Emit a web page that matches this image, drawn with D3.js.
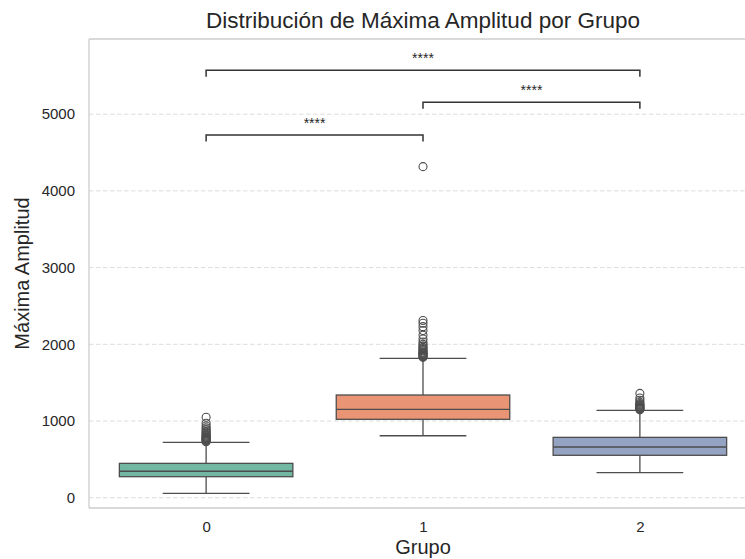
<!DOCTYPE html>
<html>
<head>
<meta charset="utf-8">
<script src="https://cdn.jsdelivr.net/npm/d3@7"></script>
<style>
  body { margin: 0; background: #fff; }
  svg { font-family: "Liberation Sans", Arial, sans-serif; }
</style>
</head>
<body>
<div id="chart"></div>
<script>
// ---- data ----
var groups = ["0", "1", "2"];
var whiskerLow = [57, 808, 326];
var q1 = [274, 1022, 553];
var medians = [345, 1152, 661];
var q3 = [448, 1339, 787];
var whiskerHigh = [722, 1817, 1139];
var outliers0 = [730, 740, 748, 755, 762, 770, 778, 785, 795, 805, 815, 828, 840, 855, 870, 890, 910, 935, 970, 1050];
var outliers1 = [1830, 1840, 1850, 1860, 1870, 1880, 1890, 1900, 1915, 1930, 1945, 1960, 1980, 2000, 2030, 2070, 2120, 2180, 2230, 2275, 2310, 4316];
var outliers2 = [1148, 1155, 1162, 1170, 1178, 1186, 1195, 1205, 1215, 1228, 1245, 1270, 1300, 1360];
var yTicks = [0, 1000, 2000, 3000, 4000, 5000];
var pairs = [[0, 2], [1, 2], [0, 1]];
var bracketLevels = [5574, 5155, 4729];
var pLabels = ["****", "****", "****"];
var colors = ["#71b7a1", "#e99575", "#95a3c3"];

var outliers = [outliers0, outliers1, outliers2];

var width = 745, height = 559;
var margin = {top: 39, right: -12, bottom: 51, left: 89};

var svg = d3.select("#chart").append("svg")
    .attr("width", width)
    .attr("height", height);

var xScale = d3.scaleLinear()
    .domain([-0.54, 2.54])
    .range([margin.left, width - margin.right]);

var yScale = d3.scaleLinear()
    .domain([-134, 5980])
    .range([height - margin.bottom, margin.top]);

var boxW = xScale(0.8) - xScale(0);
var capW = boxW / 2;
var lineColor = "#4d4d4d";

// grid
svg.append("g")
  .selectAll("line")
  .data(yTicks)
  .enter().append("line")
    .attr("x1", margin.left)
    .attr("x2", width)
    .attr("y1", function(d) { return yScale(d); })
    .attr("y2", function(d) { return yScale(d); })
    .attr("stroke", "#dcdcdc")
    .attr("stroke-width", 1)
    .attr("stroke-dasharray", "4.5,2.5");

// y axis
var yAxis = d3.axisLeft(yScale).tickValues(yTicks).tickFormat(d3.format("d"))
    .tickSize(0).tickPadding(14);
var gy = svg.append("g")
    .attr("transform", `translate(${margin.left},0)`)
    .call(yAxis);
gy.select(".domain").remove();
gy.selectAll("text").attr("font-size", "15px").attr("fill", "#262626");

// x axis
var xAxis = d3.axisBottom(xScale).tickValues([0, 1, 2])
    .tickFormat(function(d) { return groups[d]; })
    .tickSize(0).tickPadding(13);
var gx = svg.append("g")
    .attr("transform", `translate(0,${height - margin.bottom})`)
    .call(xAxis);
gx.select(".domain").remove();
gx.selectAll("text").attr("font-size", "15px").attr("fill", "#262626");

// spines
var frame = svg.append("g").attr("stroke", "#cccccc").attr("stroke-width", 1.3).attr("fill", "none");
frame.append("line").attr("x1", margin.left).attr("x2", margin.left)
    .attr("y1", margin.top).attr("y2", height - margin.bottom);
frame.append("line").attr("x1", margin.left).attr("x2", width)
    .attr("y1", margin.top).attr("y2", margin.top);
frame.append("line").attr("x1", margin.left).attr("x2", width)
    .attr("y1", height - margin.bottom).attr("y2", height - margin.bottom);

// boxes
var boxes = svg.append("g").selectAll("g")
    .data(groups)
    .enter().append("g");

boxes.append("line")
    .attr("x1", function(d, i) { return xScale(i); })
    .attr("x2", function(d, i) { return xScale(i); })
    .attr("y1", function(d, i) { return yScale(whiskerLow[i]); })
    .attr("y2", function(d, i) { return yScale(q1[i]); })
    .attr("stroke", lineColor).attr("stroke-width", 1.3);
boxes.append("line")
    .attr("x1", function(d, i) { return xScale(i); })
    .attr("x2", function(d, i) { return xScale(i); })
    .attr("y1", function(d, i) { return yScale(q3[i]); })
    .attr("y2", function(d, i) { return yScale(whiskerHigh[i]); })
    .attr("stroke", lineColor).attr("stroke-width", 1.3);
boxes.append("line")
    .attr("x1", function(d, i) { return xScale(i) - capW / 2; })
    .attr("x2", function(d, i) { return xScale(i) + capW / 2; })
    .attr("y1", function(d, i) { return yScale(whiskerLow[i]); })
    .attr("y2", function(d, i) { return yScale(whiskerLow[i]); })
    .attr("stroke", lineColor).attr("stroke-width", 1.3);
boxes.append("line")
    .attr("x1", function(d, i) { return xScale(i) - capW / 2; })
    .attr("x2", function(d, i) { return xScale(i) + capW / 2; })
    .attr("y1", function(d, i) { return yScale(whiskerHigh[i]); })
    .attr("y2", function(d, i) { return yScale(whiskerHigh[i]); })
    .attr("stroke", lineColor).attr("stroke-width", 1.3);
boxes.append("rect")
    .attr("x", function(d, i) { return xScale(i) - boxW / 2; })
    .attr("width", boxW)
    .attr("y", function(d, i) { return yScale(q3[i]); })
    .attr("height", function(d, i) { return yScale(q1[i]) - yScale(q3[i]); })
    .attr("fill", function(d, i) { return colors[i]; })
    .attr("stroke", lineColor).attr("stroke-width", 1.3);
boxes.append("line")
    .attr("x1", function(d, i) { return xScale(i) - boxW / 2; })
    .attr("x2", function(d, i) { return xScale(i) + boxW / 2; })
    .attr("y1", function(d, i) { return yScale(medians[i]); })
    .attr("y2", function(d, i) { return yScale(medians[i]); })
    .attr("stroke", lineColor).attr("stroke-width", 1.3);

// fliers
boxes.each(function(d, i) {
  d3.select(this).selectAll("circle")
    .data(outliers[i])
    .enter().append("circle")
      .attr("cx", xScale(i))
      .attr("cy", function(v) { return yScale(v); })
      .attr("r", 4)
      .attr("fill", "none")
      .attr("stroke", lineColor)
      .attr("stroke-width", 1.1);
});

// significance brackets
var tickLen = 85;
var br = svg.append("g").selectAll("g")
    .data(pairs)
    .enter().append("g");
br.append("path")
    .attr("d", function(p, k) {
      var yb = yScale(bracketLevels[k]);
      var yt = yScale(bracketLevels[k] - tickLen);
      return `M${xScale(p[0])},${yt}V${yb}H${xScale(p[1])}V${yt}`;
    })
    .attr("fill", "none")
    .attr("stroke", "#333333")
    .attr("stroke-width", 1.5);
br.append("text")
    .attr("x", function(p) { return (xScale(p[0]) + xScale(p[1])) / 2; })
    .attr("y", function(p, k) { return yScale(bracketLevels[k]) - 7; })
    .attr("text-anchor", "middle")
    .attr("font-size", "14px")
    .attr("fill", "#262626")
    .text(function(p, k) { return pLabels[k]; });

// titles
svg.append("text")
    .attr("x", (xScale(-0.54) + xScale(2.54)) / 2)
    .attr("y", 28)
    .attr("text-anchor", "middle")
    .attr("font-size", "22.5px")
    .attr("fill", "#262626")
    .text("Distribución de Máxima Amplitud por Grupo");

svg.append("text")
    .attr("x", (xScale(-0.54) + xScale(2.54)) / 2)
    .attr("y", 554)
    .attr("text-anchor", "middle")
    .attr("font-size", "20px")
    .attr("fill", "#262626")
    .text("Grupo");

svg.append("text")
    .attr("transform", `translate(29,${(margin.top + height - margin.bottom) / 2}) rotate(-90)`)
    .attr("text-anchor", "middle")
    .attr("font-size", "20px")
    .attr("fill", "#262626")
    .text("Máxima Amplitud");
</script>
</body>
</html>
